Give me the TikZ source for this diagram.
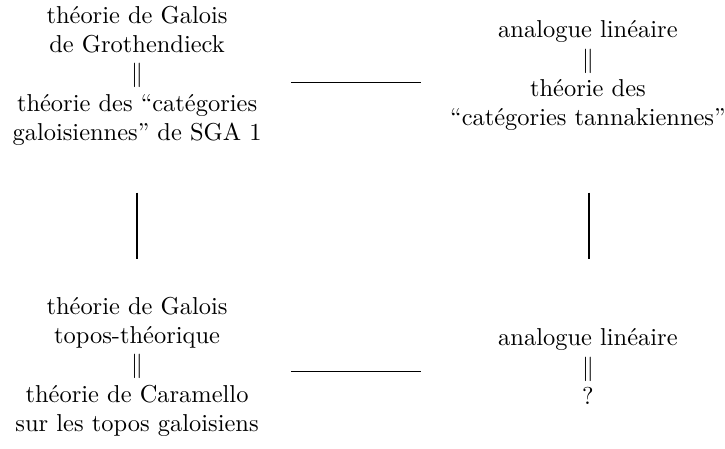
\documentclass[tikz,border=0pt]{standalone}
\usetikzlibrary{positioning}

\begin{document}
\begin{tikzpicture}[
    node distance = 0mm,
every node/.style = {inner sep=0pt, align=center},
     bar/.style = {draw=black, line width=0.85pt},
    link/.style = {draw=black, line width=0.4pt}]
\useasboundingbox (0,0) rectangle (10.42,6.44);
\coordinate                     (a)  at (1.97,5.35);
\coordinate                     (b)  at (8.45,5.35);
\coordinate                     (c)  at (1.97,1.17);
\coordinate                     (d)  at (8.45,1.17);

\node[at=(a)]  (gro)   {théorie de Galois\\ de Grothendieck\\ $\|$\\
                        théorie des “catégories\\ galoisiennes” de SGA 1};
\node[at=(b)]  (tan)   {analogue linéaire\\ $\|$\\ théorie des\\
                        “catégories tannakiennes”};
\node[at=(c)]  (car)   {théorie de Galois\\ topos-théorique\\ $\|$\\
                        théorie de Caramello\\ sur les topos galoisiens};
\node[at=(d)]  (lin)   {analogue linéaire\\ $\|$\\ ?};

% horizontal links
\coordinate (h1) at (4.18,5.26);
\coordinate (h2) at (6.05,5.26);
\coordinate (h3) at (4.18,1.10);
\coordinate (h4) at (6.05,1.10);
\path[link] (h1) -- (h2);
\path[link] (h3) -- (h4);

% vertical links
\coordinate (v1) at (1.97,3.67);
\coordinate (v2) at (1.97,2.72);
\coordinate (v3) at (8.46,3.67);
\coordinate (v4) at (8.46,2.72);
\path[bar] (v1) -- (v2);
\path[bar] (v3) -- (v4);

    \end{tikzpicture}
\end{document}
